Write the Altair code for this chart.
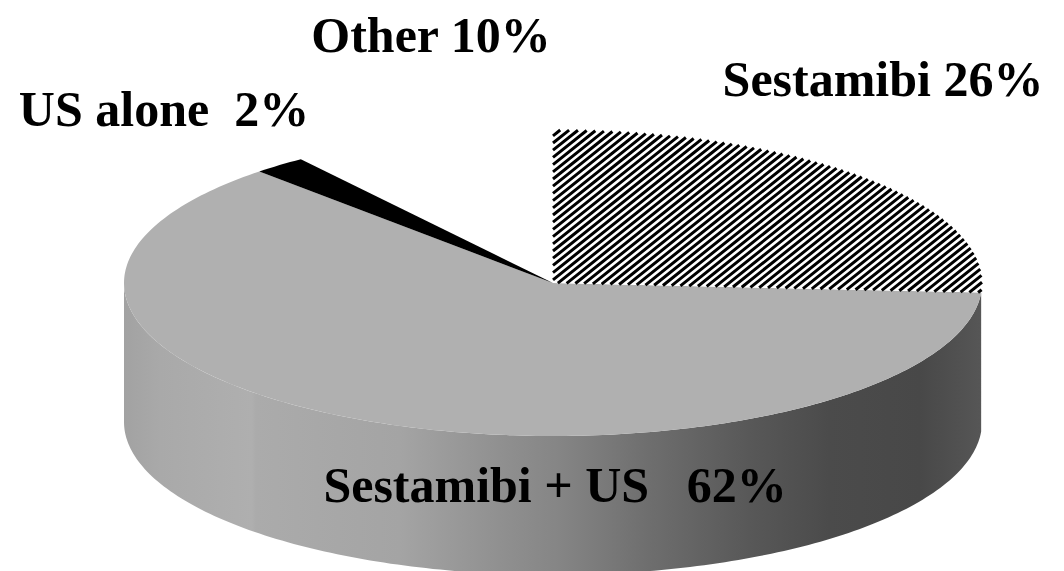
import math
import altair as alt

# Pie contents
CATEGORIES = ["Sestamibi", "Sestamibi + US", "US alone", "Other"]
SHARES = [26, 62, 2, 10]
LABEL_GAPS = [" ", " \u00a0\u00a0", " \u00a0", " "]

CX, CY = 553, 283
RX, RY = 429, 153
DEPTH = 139
HATCH_STEP = 9.0
HATCH_RISE = 0.8
FONT = "Liberation Serif"
FONT_SIZE = 50


def rim(turn, drop=0.0):
    """Point on the pie's rim, `turn` degrees clockwise from twelve o'clock."""
    a = math.radians(turn)
    return [CX + RX * math.sin(a), CY - RY * math.cos(a) + drop]


def arc(start, end, drop=0.0):
    n = max(2, int(abs(end - start)) + 1)
    return [rim(start + (end - start) * i / n, drop) for i in range(n + 1)]


def polygon(ring):
    return {
        "type": "Feature",
        "properties": {},
        "geometry": {"type": "Polygon", "coordinates": [ring + [ring[0]]]},
    }


def clip_to_sector(p, q, end):
    """Clip segment p-q to the convex sector from twelve o'clock to `end` degrees."""
    t0, t1 = 0.0, 1.0
    dx, dy = q[0] - p[0], q[1] - p[1]
    # ellipse boundary
    ux, uy = (p[0] - CX) / RX, (p[1] - CY) / RY
    vx, vy = dx / RX, dy / RY
    a, b, c = vx * vx + vy * vy, 2 * (ux * vx + uy * vy), ux * ux + uy * uy - 1
    disc = b * b - 4 * a * c
    if disc <= 0:
        return None
    t0 = max(t0, (-b - math.sqrt(disc)) / (2 * a))
    t1 = min(t1, (-b + math.sqrt(disc)) / (2 * a))
    # the two straight edges of the sector, normals pointing inward
    ex, ey = rim(end)
    for nx, ny in [(1.0, 0.0), (ey - CY, -(ex - CX))]:
        f = nx * (p[0] - CX) + ny * (p[1] - CY)
        g = nx * dx + ny * dy
        if abs(g) < 1e-9:
            if f < 0:
                return None
        elif g > 0:
            t0 = max(t0, -f / g)
        else:
            t1 = min(t1, -f / g)
    if t0 >= t1:
        return None
    return [[p[0] + dx * t0, p[1] + dy * t0], [p[0] + dx * t1, p[1] + dy * t1]]


# Slice boundaries, in degrees clockwise from twelve o'clock
bounds = [0.0]
for share in SHARES:
    bounds.append(bounds[-1] + share * 3.6)

centre = [CX, CY]
hatched = polygon([centre] + arc(bounds[0], bounds[1]))
gray = polygon([centre] + arc(bounds[1], bounds[2]))
black = polygon([centre] + arc(bounds[2], bounds[3]))

wall = polygon(arc(bounds[1], 270) + arc(270, bounds[1], DEPTH))

# Diagonal stripes across the first slice
stripes = []
offset = CX - 220
while offset < CX + RX + 50:
    seg = clip_to_sector(
        [offset - 400, CY + 400 * HATCH_RISE],
        [offset + 400, CY - 400 * HATCH_RISE],
        bounds[1],
    )
    if seg:
        stripes.append(seg)
    offset += HATCH_STEP
hatch = {
    "type": "Feature",
    "properties": {},
    "geometry": {"type": "MultiLineString", "coordinates": stripes},
}

wall_xmin, wall_xmax = CX - RX, CX + RX


def grad_stop(x, shade):
    return alt.GradientStop(offset=(x - wall_xmin) / (wall_xmax - wall_xmin), color=shade)


wall_fill = alt.LinearGradient(
    gradient="linear",
    x1=0, x2=1, y1=0, y2=0,
    stops=[
        grad_stop(124, "#a2a2a2"),
        grad_stop(160, "#a9a9a9"),
        grad_stop(252, "#afafaf"),
        grad_stop(256, "#ababab"),
        grad_stop(400, "#a4a4a4"),
        grad_stop(500, "#909090"),
        grad_stop(560, "#858585"),
        grad_stop(650, "#6e6e6e"),
        grad_stop(750, "#585858"),
        grad_stop(830, "#4b4b4b"),
        grad_stop(920, "#484848"),
        grad_stop(982, "#565656"),
    ],
)


def shape(feature, **mark):
    return (
        alt.Chart(alt.Data(values=[feature]))
        .mark_geoshape(**mark)
        .project(type="identity", scale=1, translate=[0, 0])
    )


def label(index, x, y):
    text = f"{CATEGORIES[index]}{LABEL_GAPS[index]}{SHARES[index]}%"
    return (
        alt.Chart(alt.Data(values=[{"text": text}]))
        .mark_text(
            font=FONT, fontSize=FONT_SIZE, fontWeight="bold", color="#000000",
            align="center", baseline="middle",
        )
        .encode(text="text:N", x=alt.value(x), y=alt.value(y))
    )


chart = alt.layer(
    shape(wall, fill=wall_fill, stroke=None),
    shape(gray, fill="#b0b0b0", stroke=None),
    shape(black, fill="#000000", stroke=None),
    shape(hatched, fill="#ffffff", stroke=None),
    shape(hatch, fill=None, filled=False, stroke="#000000", strokeWidth=3),
    label(0, 883, 81),
    label(1, 555, 487),
    label(2, 164, 111),
    label(3, 431, 37),
).properties(
    width=1064, height=571, padding=0, autosize="none", background="#ffffff"
).configure_view(strokeWidth=0)

chart.save("out.html", embed_options={"renderer": "svg", "actions": False})
